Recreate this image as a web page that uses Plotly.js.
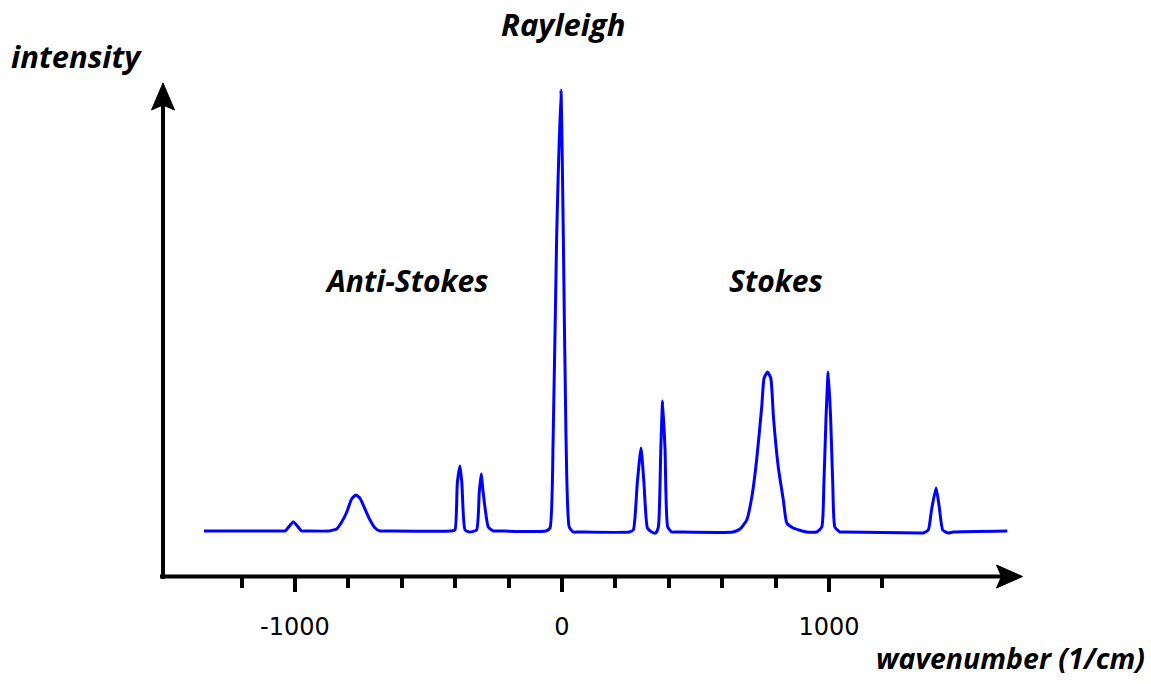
<!DOCTYPE html>
<html>
<head>
<meta charset="utf-8">
<script src="https://cdn.plot.ly/plotly-3.0.1.min.js"></script>
<style>html,body{margin:0;padding:0;background:#fff;}#chart{width:1151px;height:684px;}</style>
</head>
<body>
<div id="chart"></div>
<script>
// Spectrum (wavenumber in 1/cm, intensity in arbitrary units)
const wavenumber = [-1341, -1050, -1037, -1006, -975, -962,
  -870, -856, -844, -825, -806, -788, -772, -757, -738, -719, -700, -682, -665,
  -415, -401, -392, -382, -375, -363, -345, -320, -310, -303, -295, -276, -257, -240,
  -60, -45, -33, -20, -4, 5, 15, 27, 42, 60,
  252, 267, 282, 296, 307, 320, 336, 351, 361, 370, 377, 386, 396, 411, 428,
  641, 667, 692, 711, 729, 748, 757, 770, 782, 792, 810, 829, 842, 866, 916, 954,
  973, 981, 989, 997, 1006, 1014, 1022, 1041, 1058,
  1340, 1353, 1372, 1384, 1401, 1413, 1426, 1447, 1465, 1668];
const intensity = [46, 46, 46, 55, 46, 46,
  46, 47, 48, 55, 65, 78, 82, 79, 68, 57, 49, 46, 46,
  46, 47, 94, 111, 94, 47, 45, 47, 84, 103, 84, 50, 46, 46,
  46, 49, 140, 340, 487, 340, 140, 50, 45, 45,
  45, 47, 94, 129, 94, 49, 45, 44, 50, 127, 176, 127, 50, 45, 45,
  45, 48, 57, 80, 117, 170, 199, 205, 199, 160, 110, 77, 54, 49, 45, 45,
  50, 94, 160, 205, 160, 94, 50, 45, 45,
  44, 44, 47, 67, 89, 70, 47, 44, 45, 46];

const majorTicks = [-1000, 0, 1000];
const majorTickText = ['-1000', '0', '1000'];
const minorTicks = [-1200, -800, -600, -400, -200, 200, 400, 600, 800, 1200];

const labels = ['Rayleigh', 'Anti-Stokes', 'Stokes'];
const xTitle = 'wavenumber (1/cm)';
const yTitle = 'intensity';

// layout geometry (pixels)
const W = 1151, H = 684;
const M = {l: 162, r: 131, t: 85, b: 107};
const PW = W - M.l - M.r, PH = H - M.t - M.b;
const px2x = p => (p - M.l) / PW;
const py2y = p => (H - M.b - p) / PH;

const textFont = size => ({family: 'Open Sans, Noto Sans, sans-serif', size: size, color: '#000', weight: 'bold', style: 'italic'});

const trace = {
  x: wavenumber, y: intensity, type: 'scatter', mode: 'lines',
  line: {color: '#0000ff', width: 3, shape: 'spline', smoothing: 0.5},
  hoverinfo: 'skip'
};

const ann = (text, px, py, size) => ({
  text: text, x: px2x(px), y: py2y(py), xref: 'paper', yref: 'paper',
  xanchor: 'center', yanchor: 'middle', showarrow: false, font: textFont(size)
});

const layout = {
  width: W, height: H, margin: M,
  paper_bgcolor: '#fff', plot_bgcolor: 'rgba(0,0,0,0)',
  showlegend: false,
  xaxis: {
    range: [-1498.1, 1715.4], showgrid: false, zeroline: false, showline: false,
    tickmode: 'array', tickvals: majorTicks, ticktext: majorTickText,
    ticks: 'outside', ticklen: 14, tickwidth: 4, tickcolor: '#000',
    ticklabelstandoff: 14,
    tickfont: {family: 'DejaVu Sans, sans-serif', size: 24, color: '#000'},
    minor: {tickmode: 'array', tickvals: minorTicks, ticks: 'outside', ticklen: 10, tickwidth: 4, tickcolor: '#000', showgrid: false}
  },
  yaxis: {range: [0, 492], visible: false, fixedrange: true},
  shapes: [
    {type: 'line', xref: 'paper', yref: 'paper', x0: px2x(160), x1: px2x(1004), y0: py2y(576.5), y1: py2y(576.5), line: {color: '#000', width: 4}},
    {type: 'line', xref: 'paper', yref: 'paper', x0: px2x(163), x1: px2x(163), y0: py2y(579), y1: py2y(102), line: {color: '#000', width: 4}},
    {type: 'path', xref: 'paper', yref: 'paper', xsizemode: 'pixel', ysizemode: 'pixel',
     xanchor: px2x(1022.5), yanchor: py2y(576.5), path: 'M0,0 L-26,11.5 L-21,0 L-26,-11.5 Z',
     fillcolor: '#000', line: {color: '#000', width: 1}},
    {type: 'path', xref: 'paper', yref: 'paper', xsizemode: 'pixel', ysizemode: 'pixel',
     xanchor: px2x(163), yanchor: py2y(83), path: 'M0,0 L-11.5,-27 L0,-22 L11.5,-27 Z',
     fillcolor: '#000', line: {color: '#000', width: 1}}
  ],
  annotations: [
    ann(labels[0], 563.3, 24, 31),
    ann(labels[1], 407.3, 280, 30),
    ann(labels[2], 775.5, 280, 30),
    ann(yTitle, 76.9, 56, 31),
    ann(xTitle, 1010.8, 658, 28.5)
  ]
};

Plotly.newPlot('chart', [trace], layout, {displayModeBar: false, staticPlot: true});
</script>
</body>
</html>
